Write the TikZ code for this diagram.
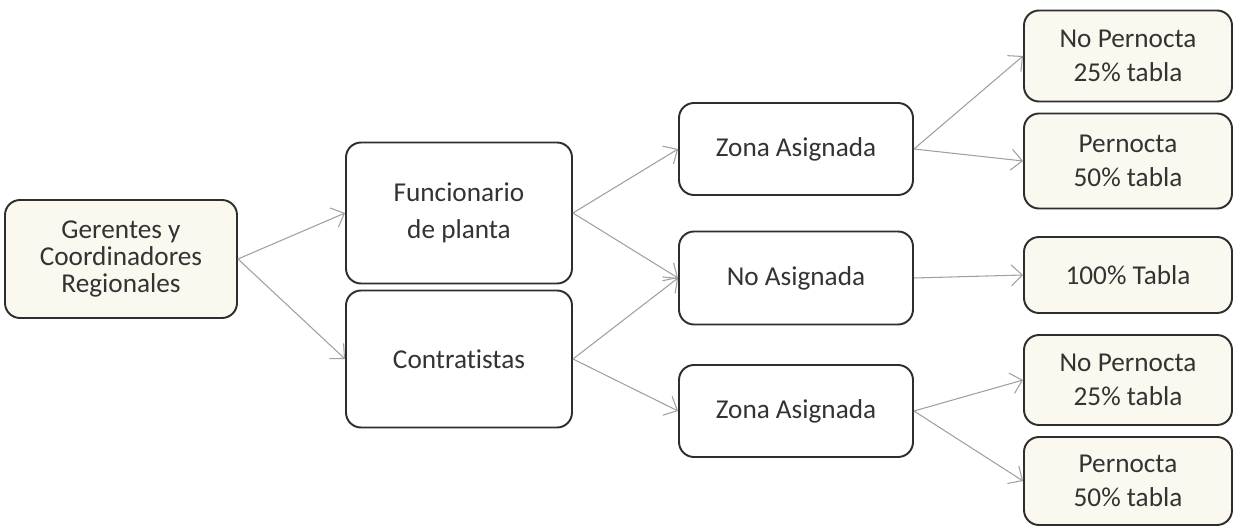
\documentclass[tikz,border=0pt]{standalone}
\usepackage{fontspec}
\setmainfont{Carlito}[Ligatures=NoCommon]
\usetikzlibrary{arrows.meta}
\definecolor{boxline}{HTML}{2E2E2E}
\definecolor{flowgray}{HTML}{A0A0A0}
\definecolor{cream}{HTML}{FBF8EF}

\begin{document}
\begin{tikzpicture}[
    box/.style={
        draw=boxline,
        line width=1.1pt,
        rounded corners=0.3cm,
        align=center,
        inner sep=0pt,
        text=black!80,
        font=\fontsize{15.5}{19}\selectfont
    },
    tint/.style={fill=cream},
    flow/.style={-{Straight Barb[length=2.2mm,width=4.2mm]},draw=flowgray,line width=0.6pt}
]
\useasboundingbox[fill=white] (0,0) rectangle (24.7,-10.54);

\node[box,tint,minimum width=4.64cm,minimum height=2.36cm,
      font=\fontsize{15.5}{15.5}\selectfont] (gerentes) at (2.42,-5.18)
    {Gerentes y\\Coordinadores\\Regionales};

\node[box,minimum width=4.52cm,minimum height=2.82cm,
      font=\fontsize{15.5}{21}\selectfont] (funcionario) at (9.18,-4.26)
    {Funcionario\\de planta};
\node[box,minimum width=4.52cm,minimum height=2.74cm] (contratistas) at (9.18,-7.18)
    {Contratistas};

\node[box,minimum width=4.68cm,minimum height=1.84cm] (zonaA) at (15.92,-2.98) {Zona Asignada};
\node[box,minimum width=4.68cm,minimum height=1.86cm] (noasig) at (15.92,-5.56) {No Asignada};
\node[box,minimum width=4.68cm,minimum height=1.84cm] (zonaB) at (15.92,-8.22) {Zona Asignada};

\node[box,tint,minimum width=4.16cm,minimum height=1.82cm] (nopernA) at (22.56,-1.12)
    {No Pernocta\\25\% tabla};
\node[box,tint,minimum width=4.16cm,minimum height=1.90cm] (pernA) at (22.56,-3.22)
    {Pernocta\\50\% tabla};
\node[box,tint,minimum width=4.16cm,minimum height=1.52cm] (tabla) at (22.56,-5.50)
    {100\% Tabla};
\node[box,tint,minimum width=4.16cm,minimum height=1.80cm] (nopernB) at (22.56,-7.60)
    {No Pernocta\\25\% tabla};
\node[box,tint,minimum width=4.16cm,minimum height=1.76cm] (pernB) at (22.56,-9.62)
    {Pernocta\\50\% tabla};

\draw[flow] (gerentes.east) -- (funcionario.west);
\draw[flow] (gerentes.east) -- (contratistas.west);
\draw[flow] (funcionario.east) -- (zonaA.west);
\draw[flow] (funcionario.east) -- (noasig.west);
\draw[flow] (contratistas.east) -- (noasig.west);
\draw[flow] (contratistas.east) -- (zonaB.west);
\draw[flow] (zonaA.east) -- (nopernA.west);
\draw[flow] (zonaA.east) -- (pernA.west);
\draw[flow] (noasig.east) -- (tabla.west);
\draw[flow] (zonaB.east) -- (nopernB.west);
\draw[flow] (zonaB.east) -- (pernB.west);
\end{tikzpicture}
\end{document}
